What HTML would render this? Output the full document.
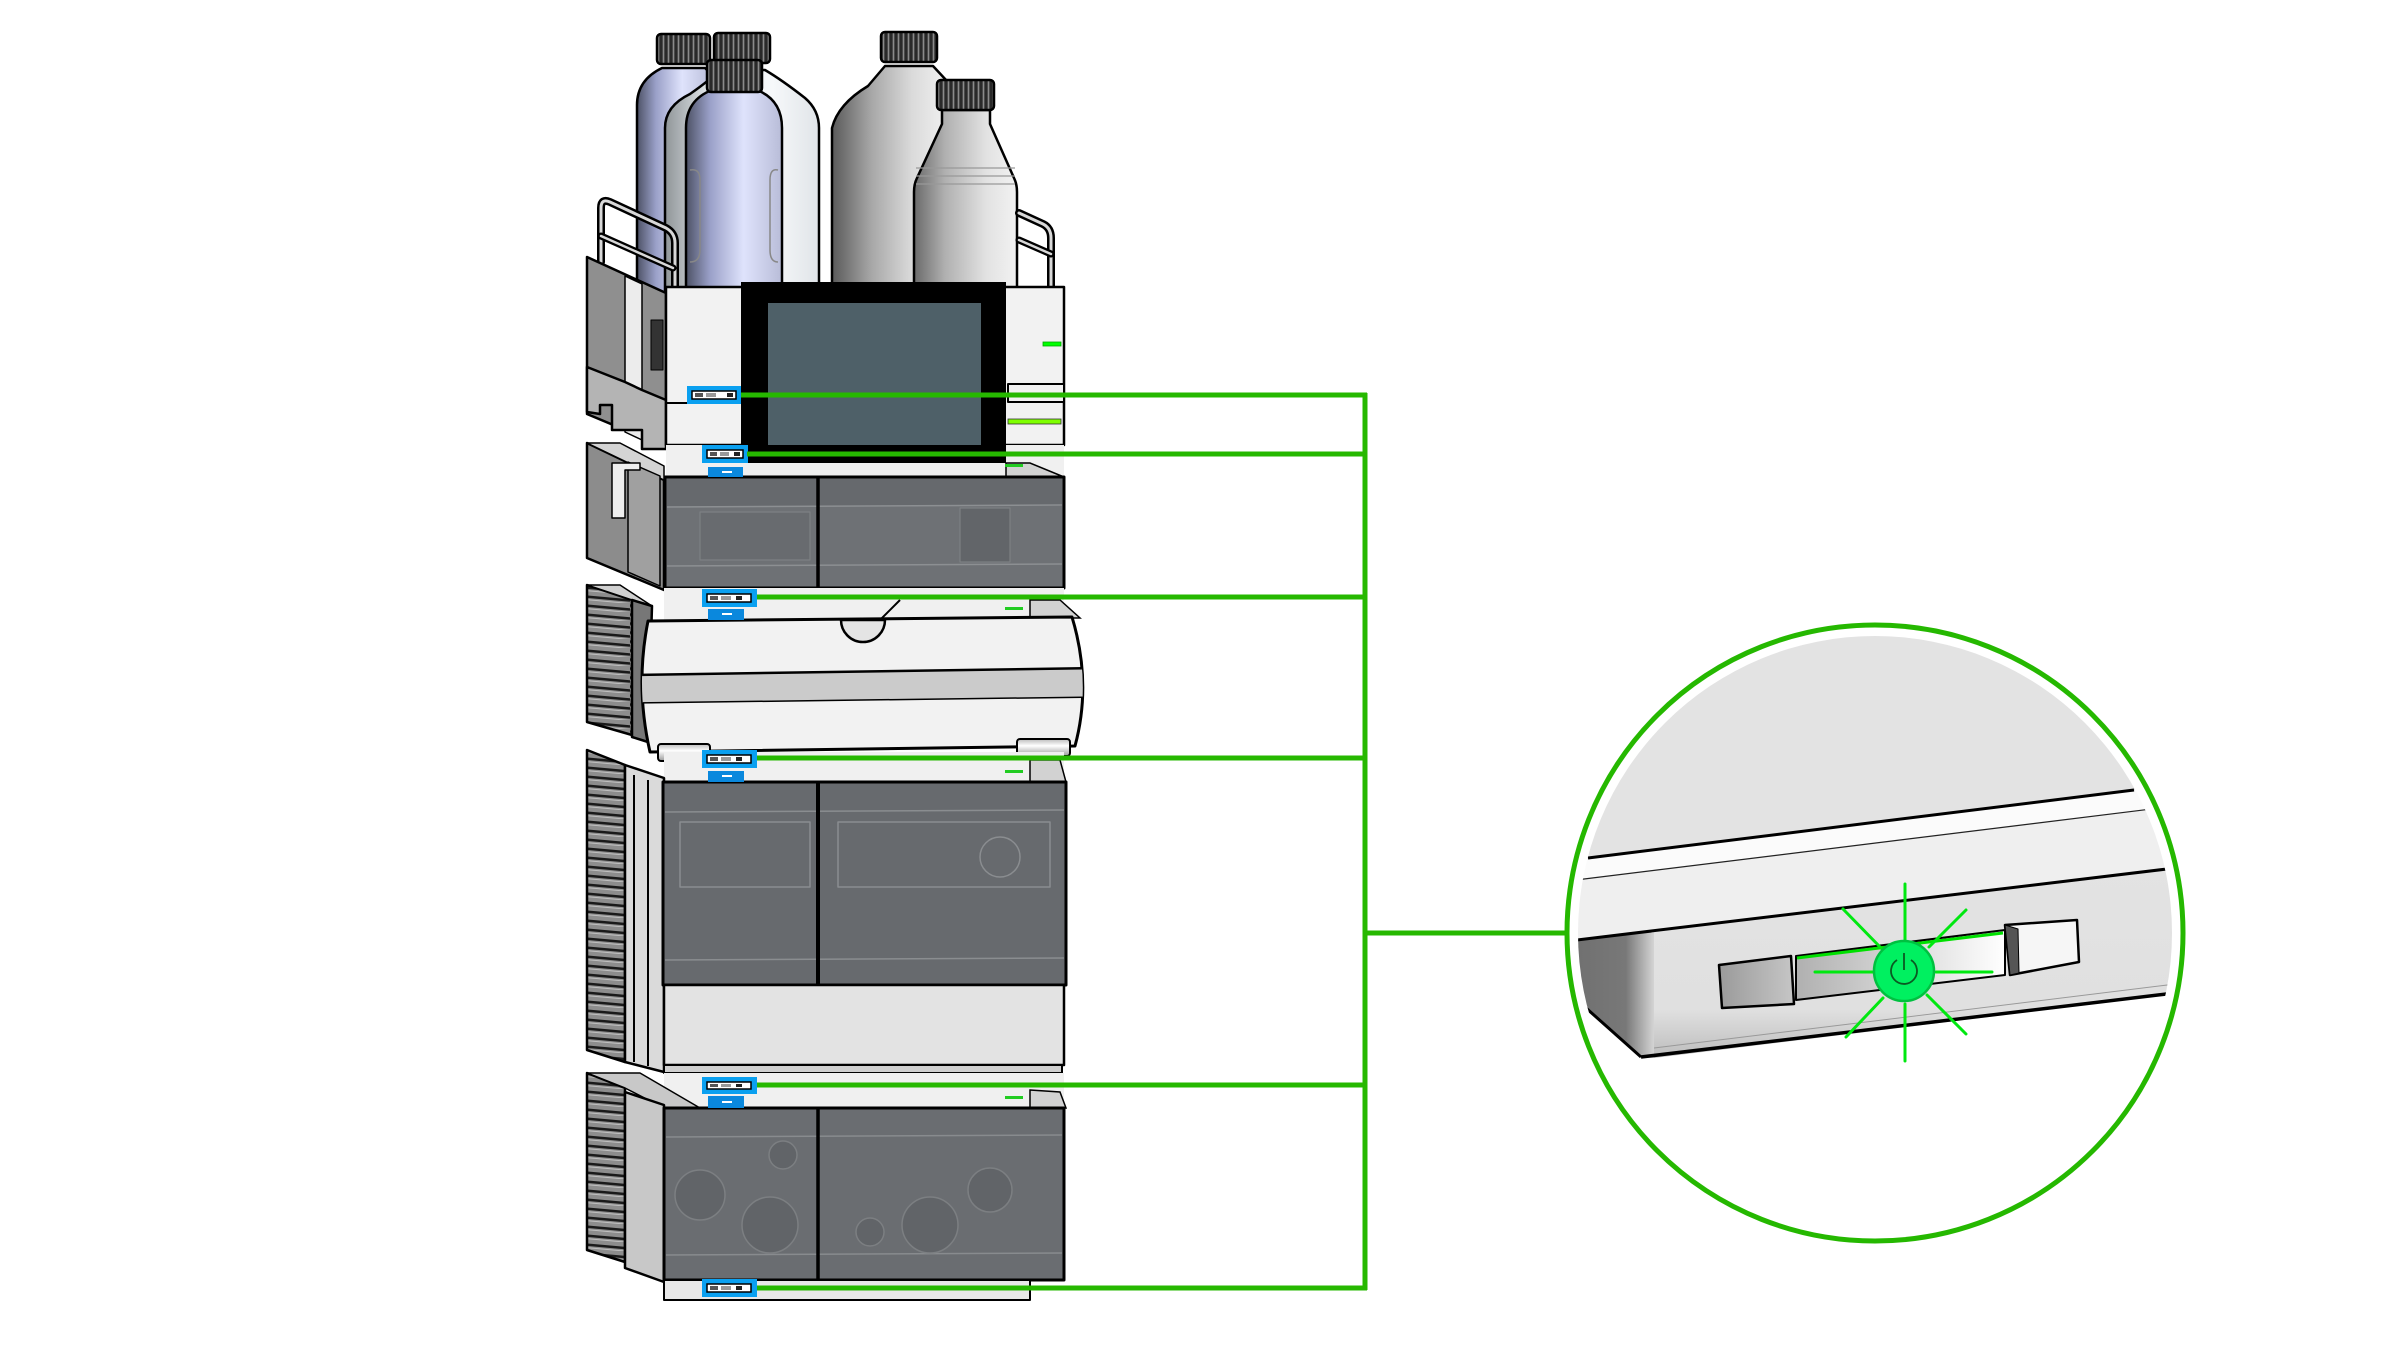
<!DOCTYPE html>
<html><head><meta charset="utf-8"><style>
html,body{margin:0;padding:0;background:#fff;}
svg{display:block;}
</style></head><body>
<svg width="2400" height="1349" viewBox="0 0 2400 1349" xmlns="http://www.w3.org/2000/svg">
<defs>
<linearGradient id="gBlue" x1="0" x2="1" y1="0" y2="0"><stop offset="0" stop-color="#4d5266"/><stop offset="0.25" stop-color="#9aa0c8"/><stop offset="0.6" stop-color="#dfe3fc"/><stop offset="1" stop-color="#b8bcd8"/></linearGradient>
<linearGradient id="gWhite" x1="0" x2="1"><stop offset="0" stop-color="#8f9598"/><stop offset="0.3" stop-color="#e8ecef"/><stop offset="0.7" stop-color="#f6f8fa"/><stop offset="1" stop-color="#e0e4e8"/></linearGradient>
<linearGradient id="gGrey" x1="0" x2="1"><stop offset="0" stop-color="#5a5a5a"/><stop offset="0.35" stop-color="#a8a8a8"/><stop offset="0.7" stop-color="#dadada"/><stop offset="1" stop-color="#f0f0f0"/></linearGradient>
<linearGradient id="gGrey2" x1="0" x2="1"><stop offset="0" stop-color="#6a6a6a"/><stop offset="0.3" stop-color="#b0b0b0"/><stop offset="0.7" stop-color="#e2e2e2"/><stop offset="1" stop-color="#f2f2f2"/></linearGradient>
<linearGradient id="gBtnL" x1="0" x2="1"><stop offset="0" stop-color="#9a9a9a"/><stop offset="1" stop-color="#c6c6c6"/></linearGradient>
<linearGradient id="gSlot" x1="0" x2="1"><stop offset="0" stop-color="#b0b0b0"/><stop offset="1" stop-color="#ffffff"/></linearGradient>
<linearGradient id="gSide" x1="0" x2="1"><stop offset="0" stop-color="#6e6e6e"/><stop offset="0.7" stop-color="#787878"/><stop offset="1" stop-color="#d4d4d4"/></linearGradient>
<linearGradient id="gFront" x1="0" x2="0" y1="0" y2="1"><stop offset="0" stop-color="#e3e3e3"/><stop offset="0.75" stop-color="#e0e0e0"/><stop offset="1" stop-color="#bdbdbd"/></linearGradient>
<linearGradient id="gCyl" x1="0" x2="0" y1="0" y2="1"><stop offset="0" stop-color="#bbb"/><stop offset="0.4" stop-color="#fff"/><stop offset="1" stop-color="#999"/></linearGradient>
<pattern id="vent" patternUnits="userSpaceOnUse" width="45" height="9">
<rect width="45" height="9" fill="#8d8d8d"/>
<path d="M0,2.5 L45,6.5" stroke="#1a1a1a" stroke-width="2.5"/>
<path d="M0,5.5 L45,9.5" stroke="#c0c0c0" stroke-width="1"/>
</pattern>
<pattern id="ribs" patternUnits="userSpaceOnUse" width="5" height="10">
<rect width="5" height="10" fill="#4a4a4a"/>
<line x1="1" y1="0" x2="1" y2="10" stroke="#1e1e1e" stroke-width="1.5"/>
<line x1="3.5" y1="0" x2="3.5" y2="10" stroke="#8a8a8a" stroke-width="1"/>
</pattern>
<clipPath id="cc"><circle cx="1875" cy="933" r="297"/></clipPath>
<clipPath id="m3"><path d="M648,621 L1072,617 Q1092,683 1075,746 L650,752 Q635,686 648,621 Z"/></clipPath>
</defs>

<rect width="2400" height="1349" fill="#fff"/>

<!-- ============ BOTTLES ============ -->
<g stroke="#000" stroke-width="2.5" stroke-linejoin="round">
  <path d="M662,68 L705,68 Q714,76 712,95 L712,295 L637,295 L637,105 Q637,80 662,68 Z" fill="url(#gBlue)"/>
  <rect x="657" y="34" width="53" height="30" rx="4" fill="url(#ribs)"/>
  <path d="M720,70 L765,70 Q782,80 805,98 Q819,110 819,128 L819,295 L665,295 L665,128 Q665,106 690,94 Q710,80 720,70 Z" fill="url(#gWhite)"/>
  <rect x="714" y="33" width="56" height="30" rx="4" fill="url(#ribs)"/>
  <path d="M885,66 L933,66 L946,80 L946,295 L832,295 L832,128 Q838,104 868,86 Z" fill="url(#gGrey)"/>
  <rect x="881" y="32" width="56" height="30" rx="4" fill="url(#ribs)"/>
  <path d="M712,90 L757,90 Q782,100 782,128 L782,295 L686,295 L686,128 Q686,100 712,90 Z" fill="url(#gBlue)"/>
  <rect x="707" y="60" width="55" height="32" rx="4" fill="url(#ribs)"/>
  <path d="M690,170 Q700,168 700,180 L700,250 Q700,262 690,262" fill="none" stroke="#888" stroke-width="1.5"/>
  <path d="M778,170 Q770,168 770,180 L770,250 Q770,262 778,262" fill="none" stroke="#888" stroke-width="1.5"/>
  <path d="M942,110 L990,110 L990,124 L1014,178 Q1017,184 1017,192 L1017,295 L914,295 L914,192 Q914,184 917,178 L942,124 Z" fill="url(#gGrey2)"/>
  <rect x="937" y="80" width="57" height="30" rx="4" fill="url(#ribs)"/>
  <path d="M916,168 L1015,168 M916,176 L1015,176 M916,184 L1015,184" stroke="#999" stroke-width="1.2" fill="none"/>
</g>

<!-- ============ RAILS ============ -->
<g fill="none" stroke-linecap="round" stroke-linejoin="round">
  <path d="M601,262 L601,208 Q601,198 610,202 L666,228 Q675,233 675,243 L675,292" stroke="#000" stroke-width="8"/>
  <path d="M601,262 L601,208 Q601,198 610,202 L666,228 Q675,233 675,243 L675,292" stroke="#d8d8d8" stroke-width="3"/>
  <path d="M601,236 L673,268" stroke="#000" stroke-width="7"/>
  <path d="M601,236 L673,268" stroke="#d8d8d8" stroke-width="2.5"/>
  <path d="M1019,213 L1043,224 Q1051,228 1051,238 L1051,290" stroke="#000" stroke-width="8"/>
  <path d="M1019,213 L1043,224 Q1051,228 1051,238 L1051,290" stroke="#d8d8d8" stroke-width="3"/>
  <path d="M1019,240 L1051,254" stroke="#000" stroke-width="7"/>
  <path d="M1019,240 L1051,254" stroke="#d8d8d8" stroke-width="2.5"/>
</g>

<!-- ============ TOP MODULE ============ -->
<g stroke="#000" stroke-width="2.5" stroke-linejoin="round">
  <polygon points="587,257 666,293 666,447 587,414" fill="#8f8f8f"/>
  <polygon points="625,276 642,284 642,440 625,432" fill="#ececec" stroke-width="1.5"/>
  <rect x="651" y="320" width="12" height="50" fill="#333" stroke-width="1"/>
  <polygon points="587,367 625,382 642,390 666,400 666,449 642,449 642,430 612,430 612,405 600,405 600,414 587,412" fill="#b4b4b4"/>
  <rect x="666" y="287" width="398" height="158" fill="#f2f2f2"/>
  <line x1="666" y1="403" x2="741" y2="403" stroke-width="2"/>
  <rect x="1008" y="384" width="56" height="18" fill="#f2f2f2" stroke-width="2"/>
  <rect x="741" y="282" width="265" height="181" fill="#000" stroke="none"/>
  <rect x="768" y="303" width="213" height="145" fill="#4e6068" stroke="none"/>
</g>
<rect x="1043" y="342" width="18" height="4" fill="#00ff00" stroke="#0a0" stroke-width="0.8"/>
<rect x="1008" y="419" width="53" height="5" fill="#7fff00" stroke="#333" stroke-width="0.8"/>

<rect x="666" y="445" width="398" height="32" fill="#f0f0f0"/>
<rect x="741" y="445" width="265" height="18" fill="#000"/>
<polygon points="1006,463 1030,463 1064,477 1006,477" fill="#d2d2d2" stroke="#000" stroke-width="1.5"/>
<rect x="1005" y="464" width="18" height="3" fill="#22cc22"/>

<!-- ============ MODULE 2 ============ -->
<g stroke="#000" stroke-width="2.5" stroke-linejoin="round">
  <polygon points="587,443 664,480 664,590 587,558" fill="#8c8c8c"/>
  <polygon points="587,443 620,443 664,466 664,480" fill="#d4d4d4" stroke-width="1.5"/>
  <polygon points="628,462 660,476 660,586 628,572" fill="#a0a0a0" stroke-width="1.5"/>
  <path d="M612,518 L612,463 L640,463 L640,470 L625,470 L625,518 Z" fill="#eeeeee" stroke-width="1.5"/>
  <rect x="665" y="477" width="399" height="111" fill="#6e7175" stroke-width="3"/>
  <rect x="667" y="479" width="395" height="27" fill="#66696d" stroke="none"/>
  <rect x="700" y="512" width="110" height="48" fill="#686b6f" stroke="#7d8083" stroke-width="1.2"/>
  <rect x="960" y="508" width="50" height="54" fill="#626569" stroke="#7d8083" stroke-width="1.2"/>
  <line x1="667" y1="507" x2="1062" y2="505" stroke="#8c8f92" stroke-width="1.5"/>
  <line x1="667" y1="566" x2="1062" y2="564" stroke="#8c8f92" stroke-width="1.5"/>
  <line x1="818" y1="477" x2="818" y2="588" stroke-width="3.5"/>
</g>

<rect x="664" y="588" width="400" height="32" fill="#f0f0f0"/>
<polygon points="1030,600 1060,600 1080,618 1030,618" fill="#d2d2d2" stroke="#000" stroke-width="1.5"/>
<rect x="1005" y="607" width="18" height="3" fill="#22cc22"/>
<line x1="900" y1="600" x2="880" y2="620" stroke="#000" stroke-width="2"/>

<!-- ============ MODULE 3 ============ -->
<g stroke="#000" stroke-width="2.5" stroke-linejoin="round">
  <polygon points="587,585 632,600 632,735 587,722" fill="url(#vent)"/>
  <polygon points="587,585 620,585 652,606 632,600" fill="#d0d0d0" stroke-width="1.5"/>
  <polygon points="632,600 652,606 648,742 632,737" fill="#777"/>
  <path d="M648,621 L1072,617 Q1092,683 1075,746 L650,752 Q635,686 648,621 Z" fill="#f2f2f2" stroke-width="3"/>
  <g clip-path="url(#m3)">
    <polygon points="630,675 1100,668 1100,697 630,703" fill="#cbcbcb" stroke="none"/>
    <line x1="630" y1="675" x2="1100" y2="668" stroke-width="2.5"/>
    <line x1="630" y1="703" x2="1100" y2="697" stroke-width="1.5"/>
  </g>
  <path d="M841,620 A22,22 0 0,0 885,620 Z" fill="#e4e4e4"/>
  <rect x="658" y="744" width="52" height="17" rx="3" fill="url(#gCyl)" stroke-width="2"/>
  <rect x="1017" y="739" width="53" height="17" rx="3" fill="url(#gCyl)" stroke-width="2"/>
</g>

<rect x="664" y="752" width="400" height="30" fill="#f0f0f0"/>
<polygon points="1030,760 1060,760 1066,782 1030,782" fill="#d2d2d2" stroke="#000" stroke-width="1.5"/>
<rect x="1005" y="770" width="18" height="3" fill="#22cc22"/>

<!-- ============ MODULE 4 ============ -->
<g stroke="#000" stroke-width="2.5" stroke-linejoin="round">
  <polygon points="587,750 625,765 625,1062 587,1050" fill="url(#vent)"/>
  <polygon points="625,765 664,778 664,1072 625,1062" fill="#dadada"/>
  <line x1="634" y1="775" x2="634" y2="1062" stroke-width="2"/>
  <line x1="648" y1="780" x2="648" y2="1066" stroke-width="2"/>
  <rect x="663" y="782" width="403" height="203" fill="#676a6e" stroke-width="3"/>
  <line x1="665" y1="812" x2="1064" y2="810" stroke="#8a8d90" stroke-width="1.5"/>
  <line x1="665" y1="960" x2="1064" y2="958" stroke="#8a8d90" stroke-width="1.5"/>
  <rect x="680" y="822" width="130" height="65" fill="none" stroke="#8a8d90" stroke-width="1.5"/>
  <rect x="838" y="822" width="212" height="65" fill="none" stroke="#8a8d90" stroke-width="1.5"/>
  <circle cx="1000" cy="857" r="20" fill="none" stroke="#8a8d90" stroke-width="1.5"/>
  <line x1="818" y1="782" x2="818" y2="985" stroke-width="4"/>
  <rect x="664" y="985" width="400" height="80" fill="#e3e3e3"/>
  <rect x="664" y="1065" width="398" height="8" fill="#cfcfcf" stroke-width="2"/>
</g>

<rect x="664" y="1073" width="400" height="35" fill="#f0f0f0"/>
<polygon points="1030,1090 1060,1092 1066,1108 1030,1108" fill="#d2d2d2" stroke="#000" stroke-width="1.5"/>
<rect x="1005" y="1096" width="18" height="3" fill="#22cc22"/>

<!-- ============ MODULE 5 ============ -->
<g stroke="#000" stroke-width="2.5" stroke-linejoin="round">
  <polygon points="587,1073 625,1088 625,1262 587,1250" fill="url(#vent)"/>
  <polygon points="587,1073 640,1073 700,1108 664,1108 625,1088" fill="#c8c8c8" stroke-width="1.5"/>
  <polygon points="625,1092 664,1105 664,1282 625,1268" fill="#c8c8c8"/>
  <rect x="664" y="1108" width="400" height="172" fill="#6a6d71" stroke-width="3"/>
  <line x1="666" y1="1137" x2="1062" y2="1135" stroke="#888b8e" stroke-width="1.5"/>
  <line x1="666" y1="1255" x2="1062" y2="1253" stroke="#888b8e" stroke-width="1.5"/>
  <g fill="#616468" stroke="#7c7f82" stroke-width="1.5">
    <circle cx="700" cy="1195" r="25"/>
    <circle cx="770" cy="1225" r="28"/>
    <circle cx="783" cy="1155" r="14"/>
    <circle cx="930" cy="1225" r="28"/>
    <circle cx="990" cy="1190" r="22"/>
    <circle cx="870" cy="1232" r="14"/>
  </g>
  <line x1="818" y1="1108" x2="818" y2="1280" stroke-width="3.5"/>
  <rect x="664" y="1280" width="366" height="20" fill="#e8e8e8" stroke-width="2"/>
</g>

<!-- ============ BLUE BOXES ============ -->
<g>
  <g transform="translate(687,386)"><rect width="54" height="18" fill="#0aa0f0"/><rect x="5" y="5" width="44" height="8" fill="#fff" stroke="#000" stroke-width="1.5"/><rect x="8" y="7" width="8" height="4" fill="#555"/><rect x="19" y="7" width="10" height="4" fill="#999"/><rect x="40" y="7" width="6" height="4" fill="#222"/></g>
  <g transform="translate(702,445)"><rect width="46" height="18" fill="#0aa0f0"/><rect x="5" y="5" width="36" height="8" fill="#fff" stroke="#000" stroke-width="1.5"/><rect x="8" y="7" width="7" height="4" fill="#555"/><rect x="18" y="7" width="9" height="4" fill="#999"/><rect x="32" y="7" width="6" height="4" fill="#222"/></g>
  <g transform="translate(702,589)"><rect width="55" height="18" fill="#0aa0f0"/><rect x="5" y="5" width="44" height="8" fill="#fff" stroke="#000" stroke-width="1.5"/><rect x="8" y="7" width="8" height="4" fill="#555"/><rect x="19" y="7" width="10" height="4" fill="#999"/><rect x="34" y="7" width="6" height="4" fill="#222"/></g>
  <g transform="translate(702,750)"><rect width="55" height="18" fill="#0aa0f0"/><rect x="5" y="5" width="44" height="8" fill="#fff" stroke="#000" stroke-width="1.5"/><rect x="8" y="7" width="8" height="4" fill="#555"/><rect x="19" y="7" width="10" height="4" fill="#999"/><rect x="34" y="7" width="6" height="4" fill="#222"/></g>
  <g transform="translate(702,1077)"><rect width="55" height="17" fill="#0aa0f0"/><rect x="5" y="5" width="44" height="7" fill="#fff" stroke="#000" stroke-width="1.5"/><rect x="8" y="7" width="8" height="3" fill="#555"/><rect x="19" y="7" width="10" height="3" fill="#999"/><rect x="34" y="7" width="6" height="3" fill="#222"/></g>
  <g transform="translate(702,1279)"><rect width="55" height="18" fill="#0aa0f0"/><rect x="5" y="5" width="44" height="8" fill="#fff" stroke="#000" stroke-width="1.5"/><rect x="8" y="7" width="8" height="4" fill="#555"/><rect x="19" y="7" width="10" height="4" fill="#999"/><rect x="34" y="7" width="6" height="4" fill="#222"/></g>
  <rect x="708" y="467" width="35" height="10" fill="#0a88dd"/>
  <rect x="708" y="609" width="36" height="11" fill="#0a88dd"/>
  <rect x="708" y="771" width="36" height="11" fill="#0a88dd"/>
  <rect x="708" y="1096" width="36" height="12" fill="#0a88dd"/>
  <g fill="#fff"><rect x="722" y="471" width="10" height="2"/><rect x="722" y="613" width="10" height="2"/><rect x="722" y="775" width="10" height="2"/><rect x="722" y="1101" width="10" height="2"/></g>
</g>

<!-- ============ GREEN CONNECTORS ============ -->
<g stroke="#26b800" stroke-width="5" fill="none">
  <line x1="741" y1="395" x2="1367" y2="395"/>
  <line x1="747" y1="454" x2="1365" y2="454"/>
  <line x1="757" y1="597" x2="1365" y2="597"/>
  <line x1="757" y1="758" x2="1365" y2="758"/>
  <line x1="757" y1="1085" x2="1365" y2="1085"/>
  <line x1="757" y1="1288" x2="1367" y2="1288"/>
  <line x1="1365" y1="393" x2="1365" y2="1290"/>
  <line x1="1365" y1="933" x2="1566" y2="933"/>
</g>

<!-- ============ CALLOUT CIRCLE ============ -->
<g clip-path="url(#cc)">
  <polygon points="1560,600 2200,600 2200,782 1560,862" fill="#e3e3e3"/>
  <polygon points="1560,862 2200,782 2200,803 1560,882" fill="#fbfbfb"/>
  <polygon points="1560,882 2200,803 2200,865 1560,942" fill="#efefef"/>
  <polygon points="1654,932 2200,865 2200,991 1654,1058" fill="url(#gFront)"/>
  <polygon points="1560,942 1654,932 1654,1058 1640,1057 1586,1008 1560,990" fill="url(#gSide)"/>
  <line x1="1588" y1="858" x2="2134" y2="790" stroke="#000" stroke-width="3"/>
  <line x1="1560" y1="882" x2="2200" y2="803" stroke="#222" stroke-width="1.2"/>
  <line x1="1560" y1="942" x2="2200" y2="865" stroke="#000" stroke-width="3"/>
  <line x1="1654" y1="1048" x2="2200" y2="981" stroke="#999" stroke-width="1"/>
  <line x1="1641" y1="1057" x2="2200" y2="990" stroke="#000" stroke-width="3.5"/>
  <line x1="1586" y1="1008" x2="1641" y2="1057" stroke="#000" stroke-width="3"/>
</g>
<circle cx="1875" cy="933" r="308" fill="none" stroke="#25b800" stroke-width="5"/>

<g stroke="#000" stroke-linejoin="round">
  <polygon points="1796,956 2005,930 2005,975 1796,1000" fill="url(#gSlot)" stroke-width="2"/>
  <polygon points="1719,965 1791,956 1794,1004 1722,1008" fill="url(#gBtnL)" stroke-width="2.5"/>
  <polygon points="2005,925 2077,920 2079,962 2010,975" fill="#f6f6f6" stroke-width="2.5"/>
  <polygon points="2005,925 2018,929 2019,973 2010,975" fill="#555" stroke-width="1"/>
</g>
<line x1="1797" y1="958" x2="2003" y2="933" stroke="#00e000" stroke-width="3"/>
<g stroke="#00e810" stroke-width="3" stroke-linecap="round">
  <line x1="1905" y1="884" x2="1905" y2="941"/>
  <line x1="1905" y1="1004" x2="1905" y2="1061"/>
  <line x1="1815" y1="972" x2="1874" y2="972"/>
  <line x1="1936" y1="972" x2="1992" y2="972"/>
  <line x1="1843" y1="909" x2="1882" y2="949"/>
  <line x1="1966" y1="910" x2="1929" y2="947"/>
  <line x1="1846" y1="1037" x2="1883" y2="998"/>
  <line x1="1966" y1="1034" x2="1927" y2="995"/>
</g>
<circle cx="1904" cy="971" r="30" fill="#00f060" stroke="#00c040" stroke-width="2.5"/>
<path d="M1897,960 A13,13 0 1,0 1911,960" fill="none" stroke="#0a5a22" stroke-width="1.8"/>
<line x1="1904" y1="953" x2="1904" y2="970" stroke="#0a5a22" stroke-width="1.8"/>
</svg>
</body></html>
